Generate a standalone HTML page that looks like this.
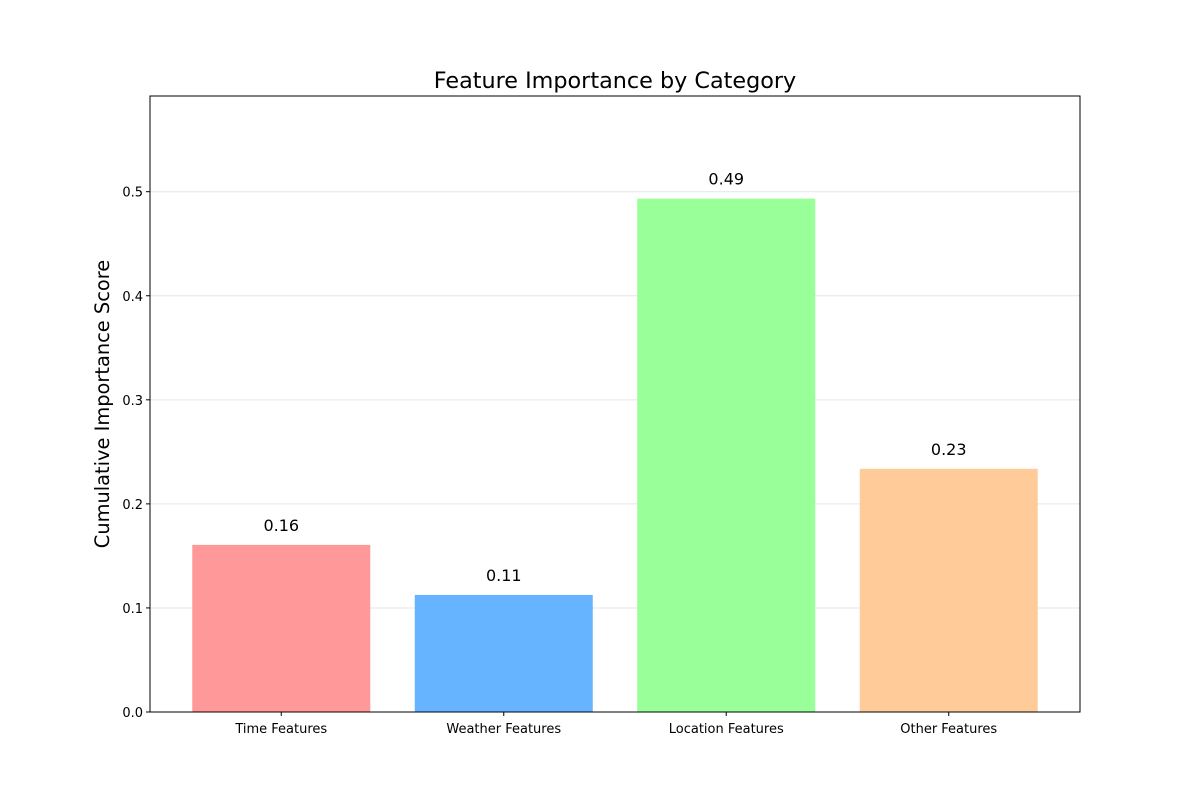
<!DOCTYPE html>
<html><head><meta charset="utf-8"><style>body{margin:0;background:#fff}svg{display:block}</style></head>
<body>
<svg id="chart" width="1200" height="800" xmlns="http://www.w3.org/2000/svg" font-family="'DejaVu Sans','Liberation Sans',sans-serif">
<rect width="1200" height="800" fill="#fff"/>
<text x="615" y="88" font-size="22.3" text-anchor="middle">Feature Importance by Category</text>
<text transform="translate(109,404) rotate(-90)" font-size="19.4" text-anchor="middle">Cumulative Importance Score</text>
<g id="grid"></g><g id="bars"></g><g id="ticks"></g>
<rect x="150" y="96" width="930" height="616" fill="none" stroke="#000" stroke-width="1"/>
</svg>
<script>
const categories=["Time Features","Weather Features","Location Features","Other Features"];
const values=[0.1606,0.1125,0.4933,0.2337];
const labels=["0.16","0.11","0.49","0.23"];
const colors=["#ff9999","#66b3ff","#99ff99","#ffcc99"];
const yTicks=[0,0.1,0.2,0.3,0.4,0.5];
const ns="http://www.w3.org/2000/svg";
const L=150,R=1080,T=96,B=712;
const ymax=Math.max(...values)*1.2;
const xmin=-0.59,xmax=categories.length-1+0.59;
const y=v=>B-(v/ymax)*(B-T);
const x=i=>L+(i-xmin)/(xmax-xmin)*(R-L);
const bw=0.8*(R-L)/(xmax-xmin);
function mk(tag,a,p){const e=document.createElementNS(ns,tag);for(const k in a)e.setAttribute(k,a[k]);p.appendChild(e);return e;}
const g=document.getElementById('grid'),b=document.getElementById('bars'),t=document.getElementById('ticks');
yTicks.forEach(v=>{
 const l=mk('line',{x1:L,x2:R,y1:y(v),y2:y(v),stroke:'#e6e6e6','stroke-width':1},g);
 
 
 const tk=mk('line',{x1:L-4,x2:L,y1:y(v),y2:y(v),stroke:'#000'},t);
 
 
 const tx=mk('text',{x:L-7,y:y(v)+5,'font-size':13,'text-anchor':'end'},t);
 tx.textContent=v.toFixed(1);
 
 
});
categories.forEach((c,i)=>{
 const r=mk('rect',{x:x(i)-bw/2,y:y(values[i]),width:bw,height:B-y(values[i]),fill:colors[i]},b);
 
 
 const vl=mk('text',{x:x(i),y:y(values[i])-14,'font-size':16,'text-anchor':'middle'},b);
 vl.textContent=labels[i];
 
 
 const tk=mk('line',{x1:x(i),x2:x(i),y1:B,y2:B+4,stroke:'#000'},t);
 
 
 const tx=mk('text',{x:x(i),y:B+21,'font-size':13,'text-anchor':'middle'},t);
 tx.textContent=c;
 
 
});
</script>
</body></html>
